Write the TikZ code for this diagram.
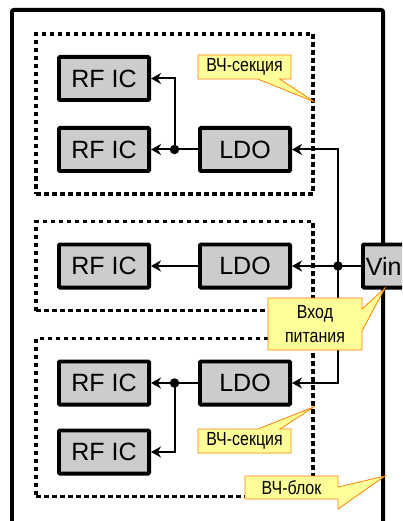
\documentclass[tikz,border=0pt]{standalone}
\usepackage{fontspec}
\setmainfont{Liberation Sans}
\newfontfamily\notefont[FakeStretch=0.84]{Liberation Sans}
\usetikzlibrary{arrows.meta,positioning,fit,shapes.callouts,calc}
\definecolor{boxgray}{RGB}{204,204,204}
\definecolor{notefill}{RGB}{255,255,153}
\definecolor{noteedge}{RGB}{255,130,0}

\begin{document}
\begin{tikzpicture}[x=1pt,y=1pt,
  unit/.style={draw,line width=3.8pt,fill=boxgray,rounded corners=1pt,
               minimum width=90.2pt,minimum height=43.2pt,inner sep=0pt,
               font=\fontsize{25}{30}\selectfont},
  section/.style={draw,line width=3.5pt,dash pattern=on 4.5pt off 3.5pt,inner sep=21pt},
  note/.style={rectangle callout,draw=noteedge,fill=notefill,line width=0.8pt,
               callout pointer width=22pt,inner sep=0pt,minimum width=93pt,
               minimum height=24pt,align=center,
               font=\notefont\fontsize{19}{24}\selectfont},
  arr/.style={-{Stealth[length=10pt,width=11pt]},line width=2pt},
  dot/.style={circle,fill,inner sep=0pt,minimum size=9.5pt},
  node distance=24pt and 47pt
]
\clip (0,0) rectangle (402,-521);
\draw[line width=3.8pt,rounded corners=2pt] (11.9,-9.9) rectangle (383.1,-540);

\node[unit] (rfA) at (104,-78.5) {RF IC};
\node[unit,below=of rfA] (rfB) {RF IC};
\node[unit,right=of rfB] (ldoA) {LDO};
\node[unit] (rfC) at (104,-266) {RF IC};
\node[unit,right=of rfC] (ldoB) {LDO};
\node[unit] (ldoC) at (245,-383) {LDO};
\node[unit,left=of ldoC] (rfD) {RF IC};
\node[unit,below=22pt of rfD] (rfE) {RF IC};
\node[unit,minimum width=0pt,text width=36pt,inner xsep=3pt,align=left,anchor=west]
  (vin) at (361,-266) {Vin};

\node[section,fit=(rfA)(ldoA)] (secA) {};
\node[section,fit=(rfC)(ldoB)] (secB) {};
\node[section,fit=(ldoC)(rfE)] (secC) {};

\coordinate (j1) at ($(rfB.east)!0.5!(ldoA.west)$);
\coordinate (j2) at ($(vin.west)+(-23pt,0)$);
\coordinate (j3) at ($(rfD.east)!0.5!(ldoC.west)$);

\draw[arr] (ldoA) -- (rfB);
\draw[arr] (j1) |- (rfA.east);
\draw[arr] (ldoB) -- (rfC);
\draw[arr] (vin) -- (ldoB);
\draw[arr] (j2) |- (ldoA.east);
\draw[arr] (j2) |- (ldoC.east);
\draw[arr] (ldoC) -- (rfD);
\draw[arr] (j3) |- (rfE.east);

\node[dot] (d1) at (j1) {};
\node[dot] (d2) at (j2) {};
\node[dot] (d3) at (j3) {};

\node[note,callout absolute pointer={(secA.east |- rfA.south)}] (noteA) at (244.5,-67) {ВЧ-секция};
\node[note,minimum width=94pt,minimum height=52pt,callout absolute pointer={(385,-288)}]
  (noteB) at (315,-324) {Вход\\питания};
\node[note,callout absolute pointer={(secC.east |- ldoC.south)}] (noteC) at (244.5,-441) {ВЧ-секция};
\node[note,minimum height=23pt,callout absolute pointer={(385,-476)}] (noteD) at (291.5,-487.5) {ВЧ-блок};
\end{tikzpicture}
\end{document}
